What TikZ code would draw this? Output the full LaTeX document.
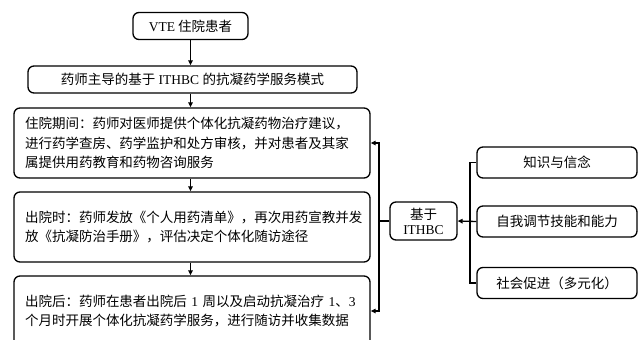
\documentclass[tikz,border=0pt]{standalone}
\usepackage{fontspec}
\setmainfont{Liberation Serif}
\newfontfamily\cjk{Noto Sans CJK SC}
\usetikzlibrary{arrows.meta}
\newcommand\lat[1]{{\rmfamily #1}}
\begin{document}
\begin{tikzpicture}[x=1pt,y=-1pt,
  box/.style={draw, line width=1.3pt, rounded corners=6pt, inner sep=0pt,
    font=\cjk\fontsize{13.5}{19.5}\selectfont, minimum height=27pt},
  textbox/.style={box, text width=#1, align=left, inner xsep=11pt, minimum height=70pt},
  sidebox/.style={box, minimum width=160pt, minimum height=31pt},
  arr/.style={line width=1.3pt, -{Triangle[length=5pt,width=4.5pt]}},
  link/.style={line width=1.3pt}]
\clip (0,0) rectangle (638,340);

% main flow
\node[box, minimum width=115pt] (pat) at (190.5,26) {\lat{VTE} 住院患者};
\node[box, minimum width=329pt] (mode) at (192.5,79.5) {药师主导的基于\lat{ ITHBC }的抗凝药学服务模式};
\node[textbox=334pt] (stay) at (192,143) {住院期间：药师对医师提供个体化抗凝药物治疗建议，\\
进行药学查房、药学监护和处方审核，并对患者及其家\\
属提供用药教育和药物咨询服务};
\node[textbox=334pt] (leave) at (192,227) {出院时：药师发放《个人用药清单》，再次用药宣教并发\\
放《抗凝防治手册》，评估决定个体化随访途径};
\node[textbox=334pt] (after) at (192,311) {出院后：药师在患者出院后\lat{ 1 }周以及启动抗凝治疗\lat{ 1}、\lat{3}\\
个月时开展个体化抗凝药学服务，进行随访并收集数据};

\draw[arr] (pat.south) -- (pat.south |- mode.north);
\draw[arr] (pat.south |- mode.south) -- (pat.south |- stay.north);
\draw[arr] (pat.south |- stay.south) -- (pat.south |- leave.north);
\draw[arr] (pat.south |- leave.south) -- (pat.south |- after.north);

% ITHBC components
\node[box, minimum width=67pt, minimum height=38pt, align=center,
  font=\cjk\fontsize{13.5}{15}\selectfont] (ith) at (423.5,221) {基于\\\lat{ITHBC}};
\node[sidebox] (know) at (557,162.5) {知识与信念};
\node[sidebox] (self) at (557,221.5) {自我调节技能和能力};
\node[sidebox] (soc) at (557,283) {社会促进（多元化）};

\coordinate (bus) at (470,0);
\draw[link] (know.west) -- (know.west -| bus) -- (soc.west -| bus) -- (soc.west);
\draw[arr] (self.west) -- (ith.east);

\coordinate (feed) at (379,0);
\draw[arr] (ith.west) -- (ith.west -| feed) |- (stay.east);
\draw[arr] (ith.west -| feed) |- (after.east);
\end{tikzpicture}
\end{document}
